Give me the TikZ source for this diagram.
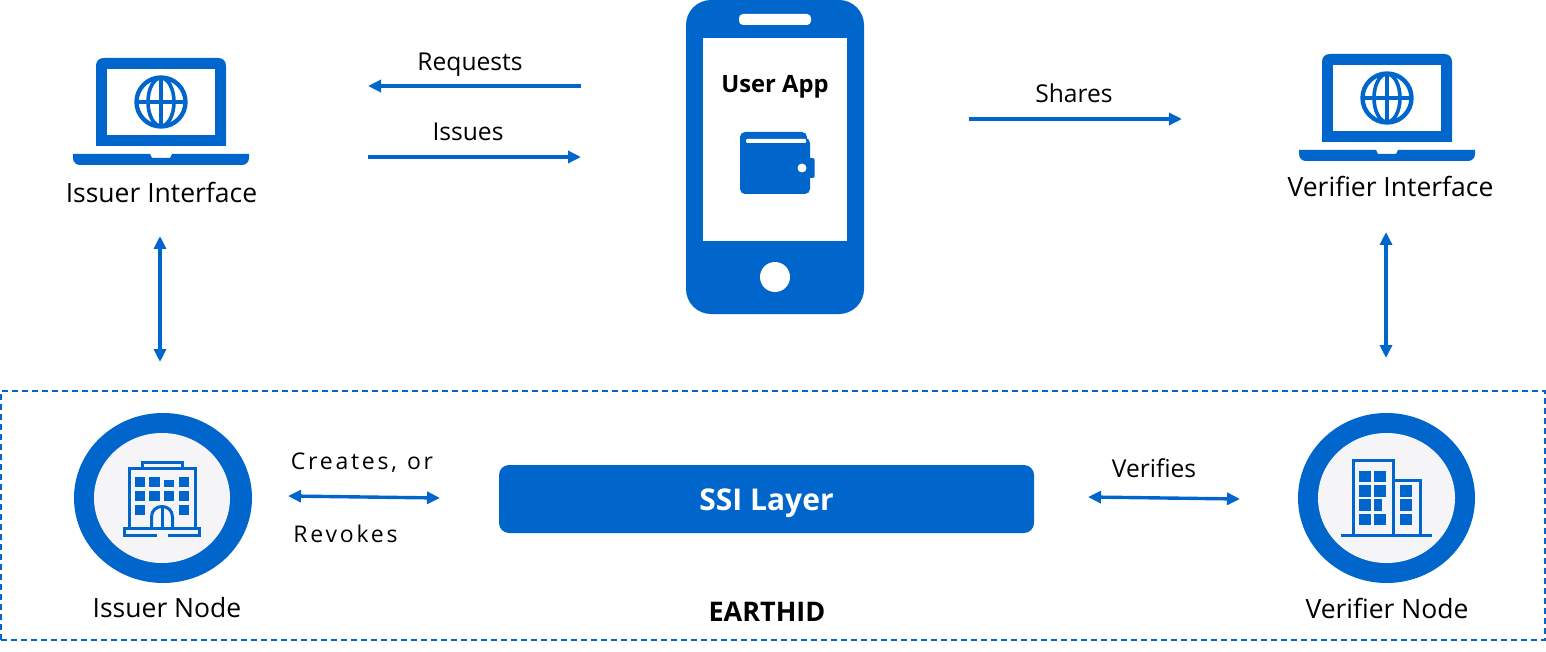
\documentclass[tikz,border=0pt]{standalone}
\usepackage{fontspec}
\setmainfont{Open Sans}
\newfontfamily\spacedfont[LetterSpace=12,WordSpace=1.15]{Open Sans}
\usetikzlibrary{arrows.meta}
\definecolor{brand}{HTML}{0066CC}
\definecolor{paleface}{HTML}{F5F5F7}
\tikzset{
  x=1pt, y=-1pt,
  link/.style={draw=brand, line width=3.4pt, -{Triangle[length=13pt,width=12pt]}},
  biglink/.style={draw=brand, line width=3.4pt, {Triangle[length=13pt,width=12pt]}-{Triangle[length=13pt,width=12pt]}},
  caption/.style={font=\fontsize{26.5}{30}\selectfont, text=black, inner sep=0pt},
  small/.style={font=\fontsize{24.6}{28}\selectfont, text=black, inner sep=0pt},
  spaced/.style={font=\fontsize{23}{28}\selectfont\spacedfont, text=black, inner sep=0pt},
  strong/.style={font=\fontsize{27}{30}\selectfont\bfseries, text=black, inner sep=0pt},
  iconline/.style={draw=brand, line width=3pt},
  pics/laptop/.style={code={
    % screen with rounded upper corners, then display and globe
    \fill[brand] (-65,44) -- (-65,-36) .. controls (-65,-41) and (-62,-44) .. (-57,-44) -- (57,-44)
       .. controls (62,-44) and (65,-41) .. (65,-36) -- (65,44) -- cycle;
    \fill[white] (-54,-33) rectangle (54,33);
    \draw[brand, line width=4.4pt] (0,0) circle[radius=24.5pt];
    \draw[brand, line width=3.6pt] (-24,0) -- (24,0) (0,-24) -- (0,24);
    \draw[brand, line width=3.6pt] (0,0) ellipse[x radius=13pt, y radius=24pt];
    % keyboard base with its notch
    \fill[brand] (-88,52) -- (-11,52) -- (-9,56) -- (9,56) -- (11,52) -- (88,52) -- (88,56)
       .. controls (88,60) and (85,63) .. (81,63) -- (-81,63) .. controls (-85,63) and (-88,60) .. (-88,56) -- cycle;
  }}
}
\begin{document}
\begin{tikzpicture}
\useasboundingbox (0,0) rectangle (1546,652);
\fill[white] (0,0) rectangle (1546,652);

% Laptops
\pic at (161,102) {laptop};
\pic at (1387,98) {laptop};
\node[caption] (issuerif) at (161.5,192) {Issuer Interface};
\node[caption] (verifierif) at (1390.5,186) {Verifier Interface};

% Phone
\fill[brand, rounded corners=25pt] (686,0) rectangle (864,314);
\fill[white] (703,38) rectangle (847,241);
\fill[white, rounded corners=4pt] (739,14) rectangle (811,25);
\fill[white] (775,277) circle[radius=15pt];
\node[strong, font=\fontsize{23.8}{30}\selectfont\bfseries] (userapp) at (775,87) {User App};

% Wallet
\fill[brand, rounded corners=5pt] (740,132) rectangle (807,170);
\fill[brand, rounded corners=5pt] (740,138) rectangle (810,194);
\fill[brand, rounded corners=1.5pt] (806,158) rectangle (814.5,178);
\fill[white, rounded corners=1pt] (746,139) rectangle (806,143);
\fill[white] (802,168) circle[radius=4.5pt];

% Flow labels and arrows between interfaces and phone
\node[small] (requests) at (470,65) {Requests};
\node[small] (issues) at (468,132) {Issues};
\node[small] (shares) at (1074,93) {Shares};
\coordinate (reqa) at (581,86);  \coordinate (reqb) at (368,86);
\coordinate (isa) at (368,157);  \coordinate (isb) at (581,157);
\coordinate (sha) at (969,119);  \coordinate (shb) at (1182,119);
\draw[link] (reqa) -- (reqb);
\draw[link] (isa) -- (isb);
\draw[link] (sha) -- (shb);

% Interface to node links
\coordinate (ila) at (160,236);  \coordinate (ilb) at (160,362);
\coordinate (vla) at (1386,232); \coordinate (vlb) at (1386,358);
\draw[biglink] (ila) -- (ilb);
\draw[biglink] (vla) -- (vlb);

% Layer frame
\node[draw=brand, line width=1.6pt, dash pattern=on 6pt off 4pt, minimum width=1544pt, minimum height=249pt, inner sep=0pt] (frame) at (773,515.5) {};

% Issuer node
\fill[brand] (163,498) ellipse[x radius=89pt, y radius=85pt];
\fill[paleface] (162,498) ellipse[x radius=68pt, y radius=65pt];
\draw[iconline] (129,527) -- (129,468) -- (195,468) -- (195,527);
\draw[iconline] (142,468) -- (142,462) -- (182,462) -- (182,468);
\draw[iconline] (157,535) -- (124.5,535) -- (124.5,528) -- (199.5,528) -- (199.5,535) -- (168,535);
\draw[iconline] (151.5,527) -- (151.5,517) .. controls (151.5,503) and (172.5,503) .. (172.5,517) -- (172.5,527);
\draw[iconline] (162,507) -- (162,527);
\foreach \cx/\cy/\cw/\ch in {135/477/10/10,149/477/11/10,164/480/10/7,179/477/10/10,
                             135/491/10/10,149/491/11/10,164/491/10/10,179/491/10/10,
                             135/505/10/10,179/505/10/10}
  \fill[brand] (\cx,\cy) rectangle ++(\cw,\ch);
\node[caption] (issuernode) at (167,608) {Issuer Node};

% Verifier node
\fill[brand] (1386.5,498) ellipse[x radius=88.5pt, y radius=85pt];
\fill[paleface] (1386.5,498) ellipse[x radius=68.5pt, y radius=65pt];
\draw[iconline, line width=3.4pt] (1353.5,535) -- (1353.5,460.5) -- (1393.5,460.5) -- (1393.5,535);
\draw[iconline] (1393.5,480) -- (1420,480) -- (1420,535);
\draw[iconline] (1341,535.5) -- (1432,535.5);
\foreach \cx/\cy/\cw/\ch in {1359/471/12/11,1374/471/12/11,1359/485/12/12,1374/485/12/12,
                             1359/499/12/12,1374/499/8/12,1359/514/12/11,1374/514/12/11,
                             1400/485/12/12,1400/499/12/12,1400/514/12/11}
  \fill[brand] (\cx,\cy) rectangle ++(\cw,\ch);
\node[caption] (verifiernode) at (1387,608) {Verifier Node};

% SSI layer bar and its links
\node[fill=brand, rounded corners=10pt, minimum width=535pt, minimum height=68pt, inner sep=0pt,
      text=white, font=\fontsize{30}{32}\selectfont\bfseries] (ssi) at (766.5,499) {\raisebox{-11pt}[0pt][0pt]{SSI Layer}};
\node[strong] (earthid) at (767,612) {EARTHID};
\node[spaced] (creates) at (362,463) {Creates, or};
\node[spaced] (revokes) at (345.5,534) {Revokes};
\node[small] (verifies) at (1154,468) {Verifies};
\coordinate (cra) at (288,496);  \coordinate (crb) at (440,498);
\coordinate (vea) at (1088,497); \coordinate (veb) at (1240,499);
\draw[biglink] (cra) -- (crb);
\draw[biglink] (vea) -- (veb);
\end{tikzpicture}
\end{document}
